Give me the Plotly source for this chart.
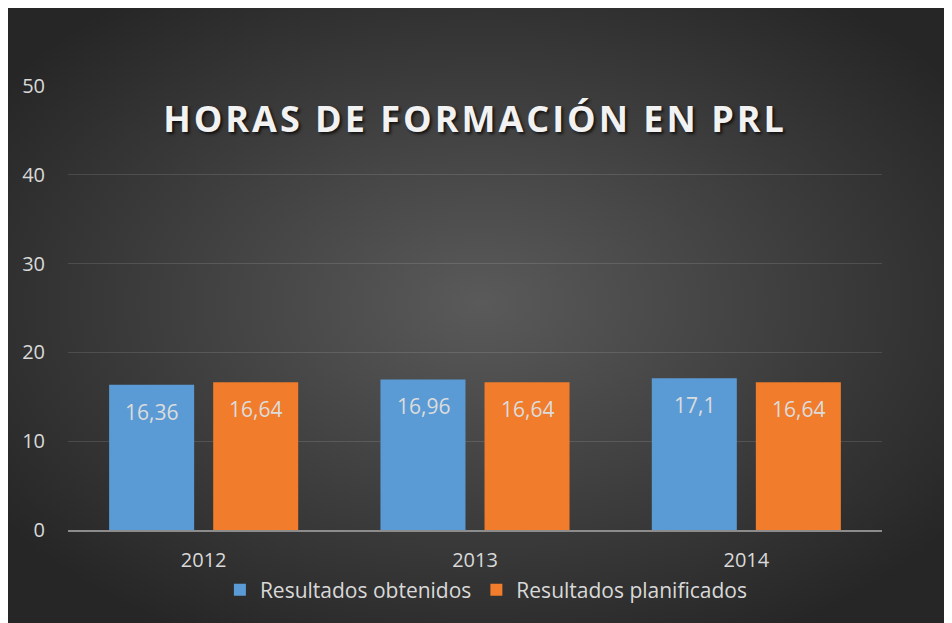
import plotly.graph_objects as go
import urllib.parse

years = ["2012", "2013", "2014"]
obtenidos = [16.36, 16.96, 17.1]
planificados = [16.64, 16.64, 16.64]
series_names = ["Resultados obtenidos", "Resultados planificados"]
title_text = "HORAS DE FORMACIÓN EN PRL"

# page body adds an 8px offset; figure coordinates = reference - 8
W, H = 944, 615
ML, MR, MT, MB = 60, 70, 78, 93
pw = W - ML - MR
ph = H - MT - MB

def fmt(v):
    return ("%g" % v).replace(".", ",")

blue = "#5b9bd5"
orange = "#f07c2c"
label_font = dict(family="Open Sans", size=21, color="#dcdcdc")

fig = go.Figure()
for name, vals, col in ((series_names[0], obtenidos, blue), (series_names[1], planificados, orange)):
    fig.add_trace(go.Bar(x=years, y=vals, name=name, marker_color=col, marker_line_width=0,
                         hoverinfo="skip"))

for vals, shift in ((obtenidos, -52), (planificados, 52)):
    for i, v in enumerate(vals):
        fig.add_annotation(x=i, y=v, xref="x", yref="y", text=fmt(v), showarrow=False,
                           xshift=shift, yshift=-27, yanchor="middle", xanchor="center",
                           font=label_font)

svg = ('<svg xmlns="http://www.w3.org/2000/svg" width="944" height="615" preserveAspectRatio="none" viewBox="0 0 944 615">'
       '<defs><radialGradient id="g" cx="0.5" cy="0.48" r="0.62" gradientUnits="objectBoundingBox">'
       '<stop offset="0" stop-color="#5a5a5a"/><stop offset="1" stop-color="#262626"/>'
       '</radialGradient></defs><rect width="944" height="615" fill="url(#g)"/></svg>')
src = "data:image/svg+xml;charset=utf-8," + urllib.parse.quote(svg)

fig.update_layout(
    width=W, height=H,
    margin=dict(l=ML, r=MR, t=MT, b=MB, pad=0),
    paper_bgcolor="#2a2a2a",
    plot_bgcolor="rgba(0,0,0,0)",
    separators=",.",
    barmode="group",
    bargap=0.233,
    bargroupgap=0.183,
    font=dict(family="Open Sans", color="#d9d9d9", size=20),
    title=dict(text='<span style="letter-spacing:3px">' + title_text + '</span>',
               x=0.5, xref="paper", xanchor="center",
               y=(H - MB - 111) / ph, yref="paper", yanchor="middle",
               font=dict(family="Open Sans", size=36, color="#f2f2f2", weight="bold",
                         shadow="2px 2px 3px rgba(0,0,0,0.7)")),
    xaxis=dict(type="category", showgrid=False, showline=True, linecolor="#8c8c8c", linewidth=2,
               ticks="", tickfont=dict(size=20, color="#d9d9d9"),
               ticklabelstandoff=11, range=[-0.5, 2.5]),
    yaxis=dict(range=[0, 50], dtick=10, showgrid=True, gridcolor="rgba(255,255,255,0.12)",
               gridwidth=1, zeroline=False, showline=False, ticks="",
               tickfont=dict(size=20, color="#d9d9d9"), ticklabelstandoff=22),
    legend=dict(orientation="h", x=0.514, xanchor="center", y=(H - MB - 582) / ph,
                yanchor="middle", font=dict(size=21, color="#d9d9d9"),
                bgcolor="rgba(0,0,0,0)", itemwidth=30),
    showlegend=True,
    images=[dict(source=src, xref="paper", yref="paper", x=-ML / pw, y=(H - MB) / ph,
                 sizex=W / pw, sizey=H / ph, xanchor="left", yanchor="top",
                 sizing="stretch", layer="below")],
)

fig.write_html("out.html")
